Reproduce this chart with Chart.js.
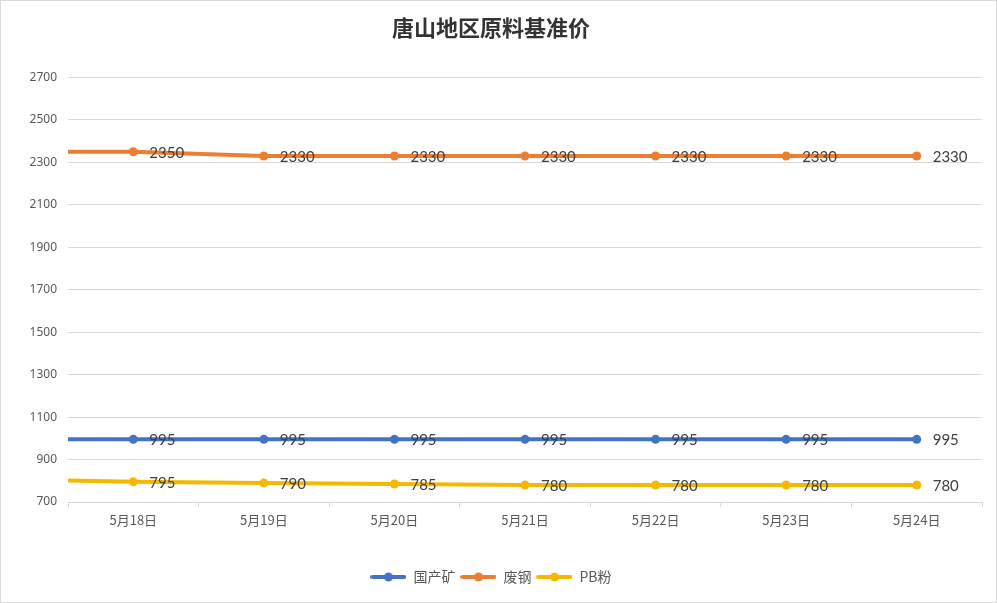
<!DOCTYPE html>
<html>
<head>
<meta charset="utf-8">
<script src="https://cdn.jsdelivr.net/npm/chart.js@4.4.1/dist/chart.umd.min.js"></script>
<style>
  html, body { margin: 0; padding: 0; background: #fff; }
</style>
</head>
<body>
<canvas id="chart" width="997" height="603"></canvas>
<script>
// first date is only the tail of the line running in from the left edge
const dates = ['5月17日', '5月18日', '5月19日', '5月20日', '5月21日', '5月22日', '5月23日', '5月24日'];
const domesticOre = [995, 995, 995, 995, 995, 995, 995, 995];
const scrapSteel = [2350, 2350, 2330, 2330, 2330, 2330, 2330, 2330];
const pbFines = [808, 795, 790, 785, 780, 780, 780, 780];
const yTicks = [700, 900, 1100, 1300, 1500, 1700, 1900, 2100, 2300, 2500, 2700];

const BLUE = '#4472C4', ORANGE = '#ED7D31', YELLOW = '#F5B800';

function legendMarker(color) {
  const c = document.createElement('canvas');
  c.width = 36; c.height = 12;
  const g = c.getContext('2d');
  g.strokeStyle = color; g.lineWidth = 4; g.lineCap = 'round';
  g.beginPath(); g.moveTo(2, 6); g.lineTo(34, 6); g.stroke();
  g.fillStyle = color;
  g.beginPath(); g.arc(18, 6, 4.5, 0, Math.PI * 2); g.fill();
  return c;
}

const frame = {
  id: 'frame',
  beforeDraw(chart) {
    const ctx = chart.ctx;
    ctx.save();
    ctx.fillStyle = '#fff';
    ctx.fillRect(0, 0, chart.width, chart.height);
    ctx.strokeStyle = '#d9d9d9';
    ctx.lineWidth = 1;
    ctx.strokeRect(0.5, 0.5, chart.width - 1, chart.height - 1);
    ctx.restore();
  }
};

const valueLabels = {
  id: 'valueLabels',
  afterDatasetsDraw(chart) {
    const ctx = chart.ctx;
    const area = chart.chartArea;
    ctx.save();
    ctx.font = '15px Lato, "Liberation Sans", sans-serif';
    ctx.fillStyle = '#404040';
    ctx.textAlign = 'left';
    ctx.textBaseline = 'middle';
    chart.data.datasets.forEach((ds, i) => {
      const meta = chart.getDatasetMeta(i);
      meta.data.forEach((pt, j) => {
        if (pt.x < area.left) return;
        ctx.fillText(ds.data[j], pt.x + 16, pt.y + 1);
      });
    });
    ctx.restore();
  }
};

const series = [
  { label: '国产矿', data: domesticOre, color: BLUE },
  { label: '废钢', data: scrapSteel, color: ORANGE },
  { label: 'PB粉', data: pbFines, color: YELLOW }
];

new Chart(document.getElementById('chart'), {
  type: 'line',
  data: {
    labels: dates,
    datasets: series.map(s => ({
      label: s.label,
      data: s.data,
      borderColor: s.color,
      backgroundColor: s.color,
      borderWidth: 4,
      pointRadius: 4.5,
      pointHoverRadius: 4.5,
      pointBorderWidth: 0,
      tension: 0,
      marker: legendMarker(s.color)
    }))
  },
  plugins: [frame, valueLabels],
  options: {
    responsive: false,
    animation: false,
    devicePixelRatio: 1,
    layout: { padding: { left: 0, right: 15, top: 0, bottom: 9 } },
    scales: {
      x: {
        type: 'category',
        min: dates[1],
        offset: true,
        grid: { drawOnChartArea: false, drawTicks: true, tickLength: 5, offset: true, color: '#d9d9d9' },
        border: { color: '#d9d9d9' },
        ticks: { color: '#595959', font: { family: '"Noto Sans CJK SC", sans-serif', size: 13 }, padding: 5, maxRotation: 0 },
        afterFit(scale) { scale.height = 63; }
      },
      y: {
        min: yTicks[0],
        max: yTicks[yTicks.length - 1],
        afterBuildTicks(scale) { scale.ticks = yTicks.map(v => ({ value: v })); },
        grid: { color: '#d9d9d9', drawTicks: false },
        border: { display: false },
        ticks: {
          color: '#595959',
          font: { family: '"Noto Sans", sans-serif', size: 12 },
          padding: 11,
          callback: v => String(v)
        },
        afterFit(scale) { scale.width = 68; }
      }
    },
    plugins: {
      title: {
        display: true,
        text: '唐山地区原料基准价',
        color: '#333333',
        font: { family: '"Noto Sans CJK SC", sans-serif', size: 22, weight: 'bold' },
        padding: { top: 14, bottom: 37 }
      },
      legend: {
        position: 'bottom',
        labels: {
          usePointStyle: true,
          pointStyleWidth: 36,
          padding: 5,
          color: '#595959',
          font: { family: '"Noto Sans CJK SC", sans-serif', size: 14 },
          generateLabels(chart) {
            return chart.data.datasets.map((ds, i) => ({
              text: ds.label,
              fillStyle: ds.borderColor,
              strokeStyle: ds.borderColor,
              lineWidth: 0,
              pointStyle: ds.marker,
              fontColor: '#595959',
              hidden: !chart.isDatasetVisible(i),
              datasetIndex: i
            }));
          }
        }
      },
      tooltip: { enabled: false }
    }
  }
});
</script>
</body>
</html>
